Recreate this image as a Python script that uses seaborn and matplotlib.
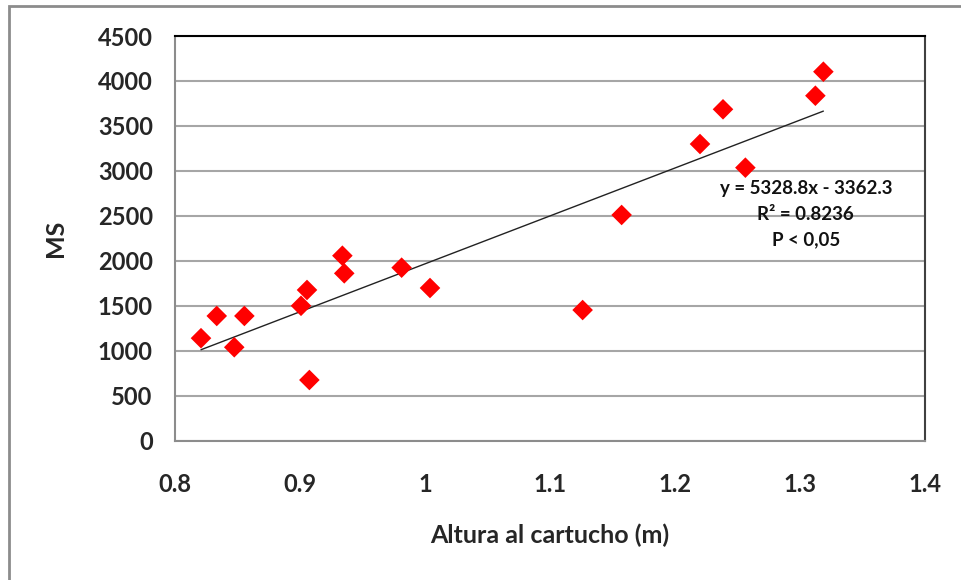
import matplotlib
matplotlib.use("Agg")
import matplotlib.pyplot as plt
import seaborn as sns
import numpy as np
import pandas as pd
from matplotlib.patches import Rectangle

# data
altura = [0.8208, 0.8334, 0.8474, 0.8555, 0.9008, 0.9056, 0.9075, 0.9339, 0.9354,
          0.9813, 1.004, 1.1261, 1.1573, 1.220, 1.2384, 1.2563, 1.3123, 1.3187]
ms = [1140, 1387, 1039, 1387, 1500, 1676, 675, 2057, 1861,
      1924, 1698, 1453, 2510, 3299, 3685, 3036, 3836, 4103]
slope = 5328.8
intercept = -3362.3
eq_lines = ["y = 5328.8x - 3362.3", "R² = 0.8236", "P < 0,05"]
xticks = [0.8, 0.9, 1.0, 1.1, 1.2, 1.3, 1.4]
xtick_labels = ["0.8", "0.9", "1", "1.1", "1.2", "1.3", "1.4"]
yticks = [0, 500, 1000, 1500, 2000, 2500, 3000, 3500, 4000, 4500]

df = pd.DataFrame({"Altura": altura, "MS": ms})

sns.set_style("white")
plt.rcParams["font.family"] = ["Lato", "DejaVu Sans"]

fig = plt.figure(figsize=(9.61, 5.80), dpi=100)
ax = fig.add_axes([175/961, 1-440.7/580, 750/961, 404.7/580])

# figure border
fig.patches.append(Rectangle((9/961, -0.1), 1.2, 1-6/580+0.1, transform=fig.transFigure,
                             fill=False, edgecolor="#8c8c8c", linewidth=2, clip_on=False))

# trend line
xl = np.array([min(altura), max(altura)])
ax.plot(xl, slope*xl + intercept, color="#222222", linewidth=1.0, zorder=2)

sns.scatterplot(data=df, x="Altura", y="MS", marker="D", color="#ff0000", s=110,
                edgecolor="none", ax=ax, zorder=3)

ax.set_xlim(0.8, 1.4)
ax.set_ylim(0, 4500)
ax.set_xticks(xticks)
ax.set_xticklabels(xtick_labels)
ax.set_yticks(yticks)
ax.yaxis.grid(True, color="#a6a6a6", linewidth=1.5)
ax.set_axisbelow(True)

for side in ["left", "bottom"]:
    ax.spines[side].set_color("#8c8c8c")
    ax.spines[side].set_linewidth(1.5)
ax.spines["top"].set_color("#000000")
ax.spines["top"].set_linewidth(1.5)
ax.spines["right"].set_color("#404040")
ax.spines["right"].set_linewidth(1.5)

ax.tick_params(axis="both", direction="out", length=6, width=1.2, color="#8c8c8c",
               labelsize=17, pad=10)
for lab in ax.get_xticklabels() + ax.get_yticklabels():
    lab.set_fontweight("bold")
ax.tick_params(axis="x", pad=17)

ax.set_xlabel("Altura al cartucho (m)", fontsize=18, fontweight="bold", labelpad=20)
ax.set_ylabel("MS", fontsize=18, fontweight="bold", labelpad=22)

ys = [0.624, 0.560, 0.497]
for t, yy in zip(eq_lines, ys):
    ax.text(0.841, yy, t, transform=ax.transAxes, ha="center", va="center",
            fontsize=13.5, fontweight="bold", color="#111111")

fig.savefig("out.png", dpi=100)
